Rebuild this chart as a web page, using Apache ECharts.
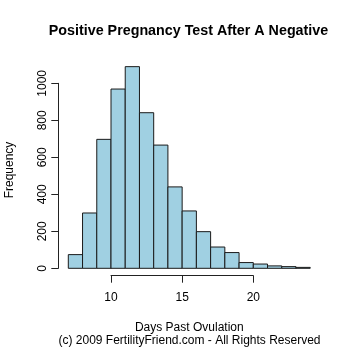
<!DOCTYPE html>
<html>
<head>
<meta charset="utf-8">
<script src="https://cdn.jsdelivr.net/npm/echarts@6/dist/echarts.min.js"></script>
<style>
html,body{margin:0;padding:0;background:#fff;}
#main{width:350px;height:350px;}
</style>
</head>
<body>
<div id="main"></div>
<script>
// histogram bins (days past ovulation) and counts
var binStart = [7, 8, 9, 10, 11, 12, 13, 14, 15, 16, 17, 18, 19, 20, 21, 22, 23];
var binEnd   = [8, 9, 10, 11, 12, 13, 14, 15, 16, 17, 18, 19, 20, 21, 22, 23, 24];
var counts   = [74, 299, 697, 969, 1090, 841, 666, 440, 310, 198, 115, 85, 31, 23, 13, 9, 5];
var xTicks = [10, 15, 20];
var yTicks = [0, 200, 400, 600, 800, 1000];

var fontName = '"Liberation Sans", Arial, Helvetica, sans-serif';

var histData = [];
for (var i = 0; i < counts.length; i++) {
	histData.push([binStart[i], binEnd[i], counts[i]]);
}

var myChart = echarts.init(document.getElementById('main'), null, {renderer: 'canvas'});
var option = {
	backgroundColor: '#fff',
	animation: false,
	textStyle: { fontFamily: fontName },
	// grid spans the tick range only, like R's axis brackets
	grid: { left: 111, right: 96.7, top: 83.3, bottom: 81.7 },
	xAxis: {
		type: 'value',
		min: xTicks[0],
		max: xTicks[xTicks.length - 1],
		interval: 5,
		offset: 7.4,
		axisLine: { show: true, onZero: false, lineStyle: { color: '#222', width: 1 } },
		axisTick: { show: true, length: 7, lineStyle: { color: '#222' } },
		axisLabel: { color: '#000', fontSize: 12, margin: 16, fontFamily: fontName },
		splitLine: { show: false }
	},
	yAxis: {
		type: 'value',
		min: yTicks[0],
		max: yTicks[yTicks.length - 1],
		interval: 200,
		offset: 52.7,
		axisLine: { show: true, onZero: false, lineStyle: { color: '#222', width: 1 } },
		axisTick: { show: true, length: 7, lineStyle: { color: '#222' } },
		axisLabel: {
			color: '#000', fontSize: 12, margin: 10, rotate: 90, fontFamily: fontName,
			formatter: function (v) { return String(v); }
		},
		splitLine: { show: false }
	},
	series: [{
		type: 'custom',
		clip: false,
		data: histData,
		encode: { x: [0, 1], y: 2 },
		renderItem: function (params, api) {
			var p0 = api.coord([api.value(0), 0]);
			var p1 = api.coord([api.value(1), api.value(2)]);
			return {
				type: 'rect',
				shape: { x: p0[0], y: p1[1], width: p1[0] - p0[0], height: p0[1] - p1[1] },
				style: { fill: '#a0d0e2', stroke: '#1a1a1a', lineWidth: 1 }
			};
		}
	}],
	graphic: [
		{ type: 'text', x: 188.5, y: 31, style: { text: 'Positive Pregnancy Test After A Negative', font: 'bold 14.3px ' + fontName, fill: '#000', textAlign: 'center', textVerticalAlign: 'middle' } },
		{ type: 'text', x: 189.3, y: 328, style: { text: 'Days Past Ovulation', font: '12px ' + fontName, fill: '#000', textAlign: 'center', textVerticalAlign: 'middle' } },
		{ type: 'text', x: 189.5, y: 341, style: { text: '(c) 2009 FertilityFriend.com - All Rights Reserved', font: '12px ' + fontName, fill: '#000', textAlign: 'center', textVerticalAlign: 'middle' } },
		{ type: 'text', x: 10, y: 170, rotation: Math.PI / 2, style: { text: 'Frequency', font: '12px ' + fontName, fill: '#000', textAlign: 'center', textVerticalAlign: 'middle' } }
	]
};
myChart.setOption(option);
</script>
</body>
</html>
